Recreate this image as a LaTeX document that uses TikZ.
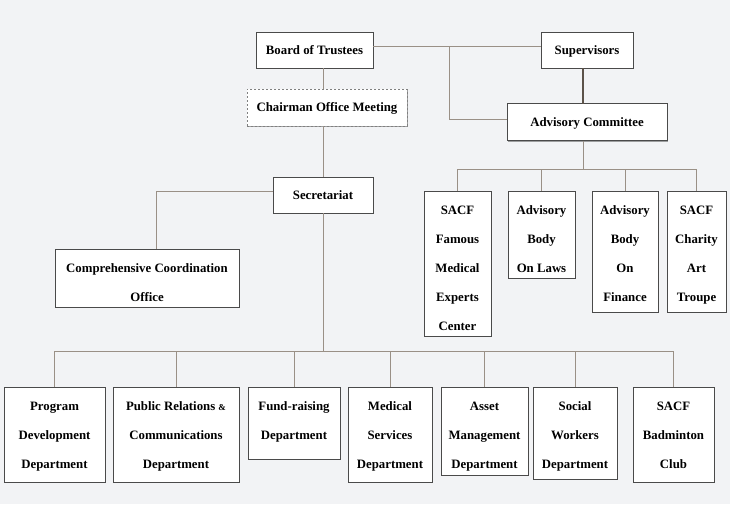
\documentclass[tikz,border=0pt]{standalone}
\usepackage{fontspec}
\setmainfont{Liberation Serif}
\usetikzlibrary{shadows}
\definecolor{bgcol}{HTML}{F2F3F5}
\definecolor{linecol}{HTML}{9A9086}
\definecolor{darkline}{HTML}{5C5249}
\definecolor{boxline}{HTML}{4A4A4A}
\newcommand{\tstr}{\rule{0pt}{23.5pt}}
\newcommand{\bstr}[1]{\rule[-#1pt]{0pt}{#1pt}}
\tikzset{
  box/.style={draw=boxline,fill=white,line width=0.9pt,inner sep=0pt,outer sep=0pt,align=center,
    font=\fontsize{12.8}{29}\selectfont\bfseries,
    drop shadow={shadow xshift=0.8pt,shadow yshift=-1pt,opacity=0.35,fill=black}},
  sbox/.style={box,text height=8.6pt,text depth=0pt},
  tbox/.style={box,anchor=north},
  dbox/.style={sbox,draw=gray,dash pattern=on 2pt off 2pt,drop shadow={opacity=0}},
  link/.style={draw=linecol,line width=1pt},
  thicklink/.style={draw=darkline,line width=2pt}
}
\begin{document}
\begin{tikzpicture}[x=1pt,y=-1pt]
	\useasboundingbox (0,0) rectangle (730,504);
	\fill[bgcol] (0,0) rectangle (730,504);
	\coordinate (abus) at (0,169);
	\coordinate (bbus) at (0,351);
	\node[sbox,minimum width=117,minimum height=36] (bot) at (314.5,50) {Board of Trustees};
	\node[sbox,minimum width=92,minimum height=36] (sup) at (587,50) {Supervisors};
	\node[dbox,minimum width=160,minimum height=37] (com) at (327,107.5) {Chairman Office Meeting};
	\node[sbox,minimum width=160,minimum height=37] (adv) at (587,122) {Advisory Committee};
	\node[sbox,minimum width=100,minimum height=36] (sec) at (323,195) {Secretariat};
	\node[tbox,minimum width=184] (cco) at (147,249) {\tstr Comprehensive Coordination\\Office\bstr{5.5}};
	\node[tbox,minimum width=67] (a1) at (457.5,191) {\tstr SACF\\Famous\\Medical\\Experts\\Center\bstr{5.5}};
	\node[tbox,minimum width=67] (a2) at (541.5,191) {\tstr Advisory\\Body\\On Laws\bstr{5.5}};
	\node[tbox,minimum width=66] (a3) at (625,191) {\tstr Advisory\\Body\\On\\Finance\bstr{10.5}};
	\node[tbox,minimum width=59] (a4) at (696.5,191) {\tstr SACF\\Charity\\Art\\Troupe\bstr{10.5}};
	\node[tbox,minimum width=101] (b1) at (54.5,387) {\tstr Program\\Development\\Department\bstr{13.5}};
	\node[tbox,minimum width=126] (b2) at (176,387) {\tstr Public Relations {\fontsize{9}{9}\selectfont\&}\\Communications\\Department\bstr{13.5}};
	\node[tbox,minimum width=92] (b3) at (294,387) {\tstr Fund-raising\\Department\bstr{19.5}};
	\node[tbox,minimum width=84] (b4) at (390,387) {\tstr Medical\\Services\\Department\bstr{13.5}};
	\node[tbox,minimum width=87] (b5) at (484.5,387) {\tstr Asset\\Management\\Department\bstr{6.5}};
	\node[tbox,minimum width=84] (b6) at (575,387) {\tstr Social\\Workers\\Department\bstr{10.5}};
	\node[tbox,minimum width=81] (b7) at (673.5,387) {\tstr SACF\\Badminton\\Club\bstr{13.5}};
	\coordinate (br) at (449,46);
	\draw[link] ([yshift=4pt]bot.east) -- ([yshift=4pt]sup.west);
	\draw[link] (br) |- ([yshift=3pt]adv.west);
	\draw[thicklink] ([xshift=-4pt]sup.south) -- ([xshift=-4pt]adv.north);
	\draw[link] (sec.north |- bot.south) -- (sec.north |- com.north);
	\draw[link] (sec.north |- com.south) -- (sec.north);
	\draw[link] ([yshift=4pt]sec.west) -| ([xshift=9pt]cco.north);
	\draw[link] ([xshift=-4pt]adv.south) -- ([xshift=-4pt]adv.south |- abus);
	\draw[link] (a1.north |- abus) -- (a4.north |- abus);
	\foreach \n in {a1,a2,a3,a4}
		\draw[link] (\n.north) -- (\n.north |- abus);
	\draw[link] (sec.south) -- (sec.south |- bbus);
	\draw[link] (b1.north |- bbus) -- (b7.north |- bbus);
	\foreach \n in {b1,b2,b3,b4,b5,b6,b7}
		\draw[link] (\n.north) -- (\n.north |- bbus);
\end{tikzpicture}
\end{document}
